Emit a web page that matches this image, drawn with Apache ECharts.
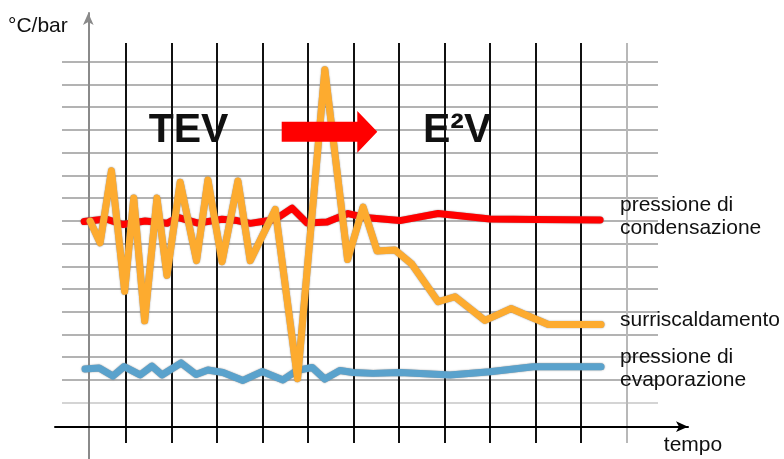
<!DOCTYPE html>
<html>
<head>
<meta charset="utf-8">
<script src="https://cdn.jsdelivr.net/npm/echarts@6/dist/echarts.min.js"></script>
<style>
html,body{margin:0;padding:0;background:#fff;}
#c{width:784px;height:459px;}
</style>
</head>
<body>
<div id="c"></div>
<script>
// time axis units (vertical black lines every 10 units, first at 0)
var condTime   = [-9.2,-4.4,-0.7,4.2,9.0,11.4,15.8,21.1,24.4,27.3,32.8,36.5,39.8,44.2,48.8,52.5,60.2,68.6,80.0,90.3,104.2];
var condValues = [7.97,8.08,7.84,7.99,7.89,8.15,7.90,8.07,8.01,7.89,8.06,8.56,7.90,7.95,8.32,8.15,8.01,8.32,8.08,8.06,8.04];

var superTime   = [-7.9,-5.7,-3.2,-0.3,1.7,4.1,6.8,9.0,11.9,15.5,18.0,21.1,24.6,27.3,32.8,37.7,43.7,48.7,52.1,55.2,59.1,62.8,68.6,72.3,78.9,84.6,92.8,104.4];
var superValues = [7.99,7.03,10.2,4.9,9.0,3.6,9.0,5.6,9.7,6.25,9.8,6.2,9.75,6.25,8.5,1.05,14.65,6.3,8.6,6.67,6.72,6.10,4.44,4.66,3.62,4.14,3.44,3.44];

var evapTime   = [-9.0,-5.9,-2.9,-0.4,3.1,5.7,7.9,12.1,15.4,18.0,21.3,25.7,29.9,34.5,37.6,40.9,43.7,47.0,49.9,54.3,60.2,71.2,80.0,89.5,104.4];
var evapValues = [1.48,1.53,1.17,1.59,1.22,1.61,1.22,1.75,1.24,1.44,1.33,0.98,1.37,1.00,1.42,1.55,1.04,1.42,1.33,1.29,1.33,1.22,1.36,1.58,1.58];

var yUnit = '°C/bar';
var xUnit = 'tempo';
var seriesNames = ['pressione di\ncondensazione', 'surriscaldamento', 'pressione di\nevaporazione'];

function zip(a, b) { return a.map(function (v, i) { return [v, b[i]]; }); }

var hColors = [];
for (var i = 0; i <= 15; i++) hColors.push(i === 0 ? '#d4d4d4' : '#b3b3b3');
var vColors = [];
for (var j = 0; j <= 11; j++) vColors.push(j === 11 ? '#b8b8b8' : '#111111');

var FONT = '"Liberation Sans", Arial, Helvetica, sans-serif';
function txt(x, y, s, size, weight, align) {
  return {
    type: 'text', x: x, y: y, z: 100,
    style: {
      text: s, fill: '#111',
      font: (weight || 'normal') + ' ' + size + 'px ' + FONT,
      align: align || 'left', verticalAlign: 'middle',
      textAlign: align || 'left', textVerticalAlign: 'middle'
    }
  };
}

function lineSeries(name, data, color, z) {
  return {
    name: name, type: 'line', xAxisIndex: 0, yAxisIndex: 0,
    data: data, showSymbol: false, symbol: 'none', z: z, animation: false,
    lineStyle: {
      color: color, width: 7, cap: 'round', join: 'round',
      shadowColor: 'rgba(120,120,120,0.9)', shadowBlur: 1.5
    }
  };
}

var chart = echarts.init(document.getElementById('c'), null, { renderer: 'canvas' });
chart.setOption({
  animation: false,
  backgroundColor: '#ffffff',
  grid: [
    { left: 62, right: 126, top: 61.7, bottom: 56.3 },
    { left: 126, right: 157.5, top: 43, bottom: 16 },
    { left: 88.3, right: 100, top: 13, bottom: 0 },
    { left: 55, right: 96, top: 0, bottom: 32.3 }
  ],
  xAxis: [
    { gridIndex: 0, type: 'value', min: -14.07, max: 116.92, show: false },
    { gridIndex: 1, type: 'value', min: 0, max: 110, interval: 10,
      axisLine: { show: false }, axisTick: { show: false }, axisLabel: { show: false },
      splitLine: { show: true, showMinLine: true, showMaxLine: true, lineStyle: { color: vColors, width: 2 } } },
    { gridIndex: 2, type: 'value', show: false },
    { gridIndex: 3, type: 'value', min: 0, max: 1,
      axisLine: { show: true, onZero: false, lineStyle: { color: '#000', width: 2 }, symbol: ['none', 'arrow'], symbolSize: [8, 12] },
      axisTick: { show: false }, axisLabel: { show: false }, splitLine: { show: false } }
  ],
  yAxis: [
    { gridIndex: 0, type: 'value', min: 0, max: 15, interval: 1,
      axisLine: { show: false }, axisTick: { show: false }, axisLabel: { show: false },
      splitLine: { show: true, showMinLine: true, showMaxLine: true, lineStyle: { color: hColors, width: 2 } } },
    { gridIndex: 1, type: 'value', show: false },
    { gridIndex: 2, type: 'value', min: 0, max: 1,
      axisLine: { show: true, onZero: false, lineStyle: { color: '#8a8a8a', width: 2 }, symbol: ['none', 'arrow'], symbolSize: [8, 12] },
      axisTick: { show: false }, axisLabel: { show: false }, splitLine: { show: false } },
    { gridIndex: 3, type: 'value', show: false }
  ],
  series: [
    lineSeries(seriesNames[2], zip(evapTime, evapValues), '#5aa2cc', 3),
    lineSeries(seriesNames[0], zip(condTime, condValues), '#ff0000', 4),
    lineSeries(seriesNames[1], zip(superTime, superValues), '#fdab2f', 5)
  ],
  graphic: [
    txt(8, 26, yUnit, 21),
    txt(693, 445, xUnit, 21, 'normal', 'center'),
    txt(620, 205.5, 'pressione di', 21),
    txt(620, 228, 'condensazione', 21),
    txt(620, 320.5, 'surriscaldamento', 21),
    txt(620, 357.3, 'pressione di', 21),
    txt(620, 380.5, 'evaporazione', 21),
    txt(188.5, 131, 'TEV', 41, 'bold', 'center'),
    txt(423, 131, 'E²V', 41, 'bold', 'left'),
    {
      type: 'polygon', z: 90,
      shape: { points: [[281.7,121.7],[357.3,121.7],[357.3,111],[377.3,131.7],[357.3,152.7],[357.3,141.7],[281.7,141.7]] },
      style: { fill: '#ff0000' }
    }
  ]
});
</script>
</body>
</html>
